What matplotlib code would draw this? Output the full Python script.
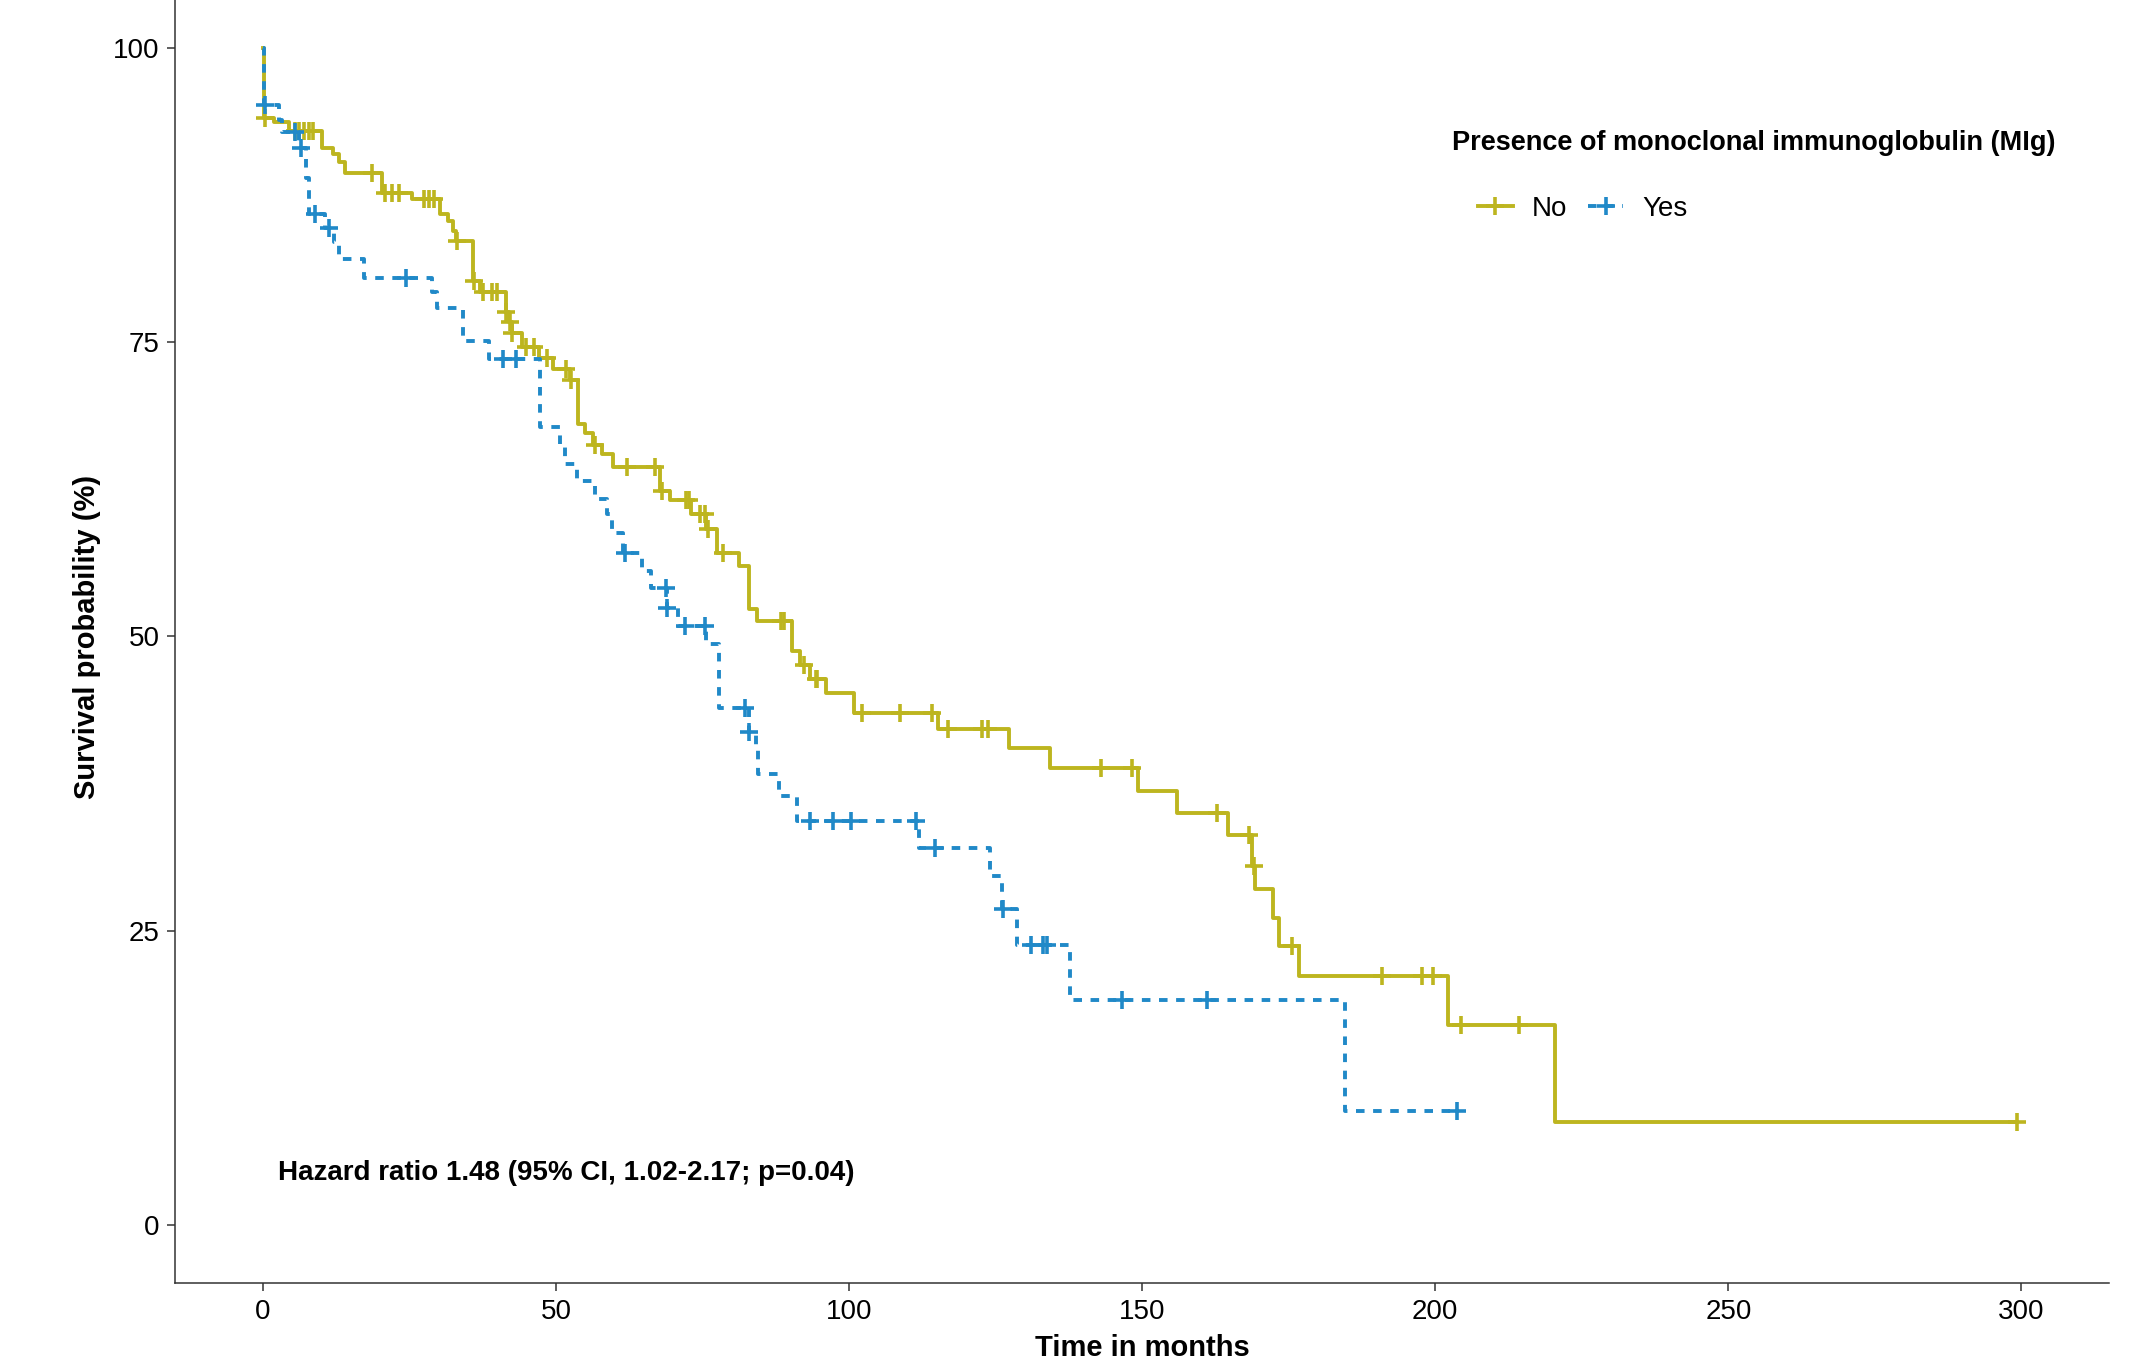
import numpy as np
import matplotlib.pyplot as plt
from matplotlib.lines import Line2D

plt.rcParams['font.family'] = ['Liberation Sans', 'DejaVu Sans']

# Kaplan-Meier steps: (time in months, survival % after the step)
no_times = [0, 0.2, 1.8, 4.5, 10.1, 12.0, 13.0, 14.0, 20.3, 25.4, 30.2, 31.5, 32.5, 33.0,
            35.9, 37.0, 41.4, 42.0, 42.4, 44.2, 47.1, 49.4, 52.4, 53.8, 55.0, 56.3, 57.8,
            59.8, 67.8, 69.5, 73.0, 75.6, 77.4, 81.2, 82.9, 84.3, 90.2, 91.7, 93.3, 96.0,
            100.9, 115.2, 127.2, 134.3, 149.3, 155.9, 164.7, 168.8, 169.3, 172.4, 173.3,
            176.8, 202.2, 220.4]
no_surv = [100, 94.1, 93.7, 93.0, 91.5, 91.0, 90.3, 89.4, 87.7, 87.2, 85.9, 85.3, 84.5, 83.6,
           80.2, 79.3, 77.6, 76.7, 75.8, 74.6, 73.7, 72.7, 71.8, 68.1, 67.3, 66.3, 65.5,
           64.4, 62.4, 61.6, 60.4, 59.1, 57.1, 56.0, 52.3, 51.3, 48.8, 47.6, 46.4, 45.2,
           43.5, 42.1, 40.5, 38.8, 36.9, 35.0, 33.1, 30.5, 28.5, 26.1, 23.7,
           21.1, 17.0, 8.7]
no_censor = [0.3, 5.5, 6.2, 7.0, 7.8, 8.5, 18.6, 20.9, 22.0, 23.2, 27.4, 28.3, 29.1, 33.1,
             36.0, 37.5, 39.0, 40.0, 41.5, 42.1, 42.5, 44.8, 46.2, 48.5, 51.7, 52.5, 56.6,
             62.1, 66.9, 68.0, 72.1, 72.7, 74.5, 75.4, 75.9, 78.5, 88.3, 88.9, 92.3, 94.3,
             94.6, 102.2, 108.7, 114.2, 116.8, 122.7, 123.7, 143.0, 148.2, 162.7, 168.3,
             169.0, 175.6, 190.9, 197.8, 199.6, 204.4, 214.2, 299.2]

yes_times = [0, 0.2, 2.8, 3.2, 6.2, 7.4, 7.8, 10.5, 12.1, 12.9, 17.2, 28.8, 29.7, 34.2, 38.6,
             47.2, 50.7, 51.5, 53.6, 56.7, 58.7, 59.5, 61.5, 64.7, 66.2, 68.9, 70.8, 75.6,
             77.8, 82.9, 84.1, 84.5, 88.0, 91.1, 112.0, 124.1, 126.1, 128.7, 137.7, 184.6]
yes_surv = [100, 95.2, 93.9, 92.9, 91.5, 89.0, 85.9, 84.7, 83.5, 82.1, 80.5, 79.3, 77.9, 75.1, 73.6,
            67.8, 66.4, 64.7, 63.2, 61.7, 60.4, 58.8, 57.1, 55.6, 54.1, 52.4, 50.9, 49.4,
            43.9, 41.9, 40.4, 38.3, 36.4, 34.3, 32.0, 29.6, 26.8, 23.8, 19.1, 9.7]
yes_censor = [0.3, 5.5, 6.5, 8.8, 11.2, 24.4, 40.9, 43.2, 61.8, 68.7, 69.0, 72.0, 75.4,
              82.3, 83.0, 93.4, 97.3, 100.3, 111.4, 114.7, 126.2, 131.0, 133.0, 133.8,
              146.6, 161.1, 203.7]

groups = ['No', 'Yes']
colors = ['#BDB51F', '#2089C8']
legend_title = 'Presence of monoclonal immunoglobulin (MIg)'
hr_text = 'Hazard ratio 1.48 (95% CI, 1.02-2.17; p=0.04)'

LW = 2.8
MS = 13
MEW = 2.6

fig = plt.figure(figsize=(21.48, 13.62), dpi=100)
ax = fig.add_axes([0.0815, 0.0577, 0.9005, 0.950])


def km(ax, times, surv, censor, color, dashed):
    times = np.array(times)
    surv = np.array(surv)
    censor = np.array(censor)
    t_end = max(times[-1], censor.max())
    tx = np.append(times, t_end)
    sx = np.append(surv, surv[-1])
    line, = ax.step(tx, sx, where='post', color=color, lw=LW)
    if dashed:
        line.set_dashes((2.2, 2.2))
    cy = surv[np.searchsorted(times, censor, side='right') - 1]
    ax.plot(censor, cy, ls='none', marker='+', ms=MS, mew=MEW, color=color)


km(ax, no_times, no_surv, no_censor, colors[0], False)
km(ax, yes_times, yes_surv, yes_censor, colors[1], True)

ax.set_xlim(-15, 315)
ax.set_ylim(-5, 105)
ax.set_xticks([0, 50, 100, 150, 200, 250, 300])
ax.set_yticks([0, 25, 50, 75, 100])
ax.spines['top'].set_visible(False)
ax.spines['right'].set_visible(False)
for s in ['left', 'bottom']:
    ax.spines[s].set_linewidth(1.1)
    ax.spines[s].set_color('#333333')
ax.tick_params(labelsize=20, length=6, width=1.1, color='#333333', pad=5)
ax.set_xlabel('Time in months', fontsize=21, fontweight='bold', labelpad=7)
ax.set_ylabel('Survival probability (%)', fontsize=21, fontweight='bold', labelpad=9)

ax.text(2.5, 4.4, hr_text, fontsize=20, fontweight='bold', ha='left', va='center')

# legend: title and keys placed like the ggplot legend
fig.text(1452 / 2148, 1 - 143 / 1362, legend_title, fontsize=19.5, fontweight='bold',
         ha='left', va='center')
handles = [Line2D([], [], color=colors[0], lw=LW, marker='+', ms=MS, mew=MEW),
           Line2D([], [], color=colors[1], lw=LW, ls=(0, (2.2, 2.2)), marker='+', ms=MS, mew=MEW)]
leg = ax.legend(handles, groups, loc='center left',
                bbox_to_anchor=(1478 / 2148, 1 - 209 / 1362), bbox_transform=fig.transFigure,
                ncol=2, frameon=False, fontsize=20, handlelength=1.25,
                handletextpad=0.7, columnspacing=0.75, borderaxespad=0, borderpad=0)

fig.savefig('out.png', dpi=100)
